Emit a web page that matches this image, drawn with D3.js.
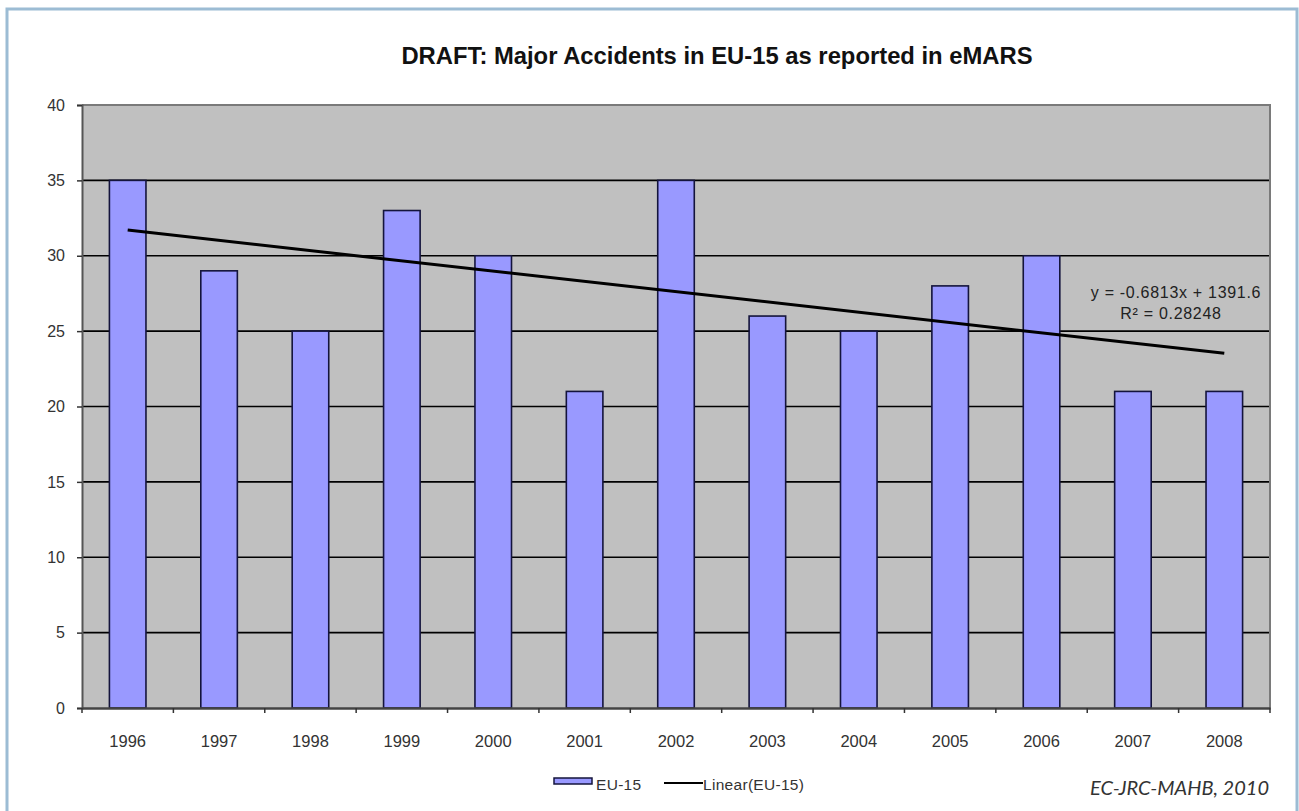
<!DOCTYPE html>
<html>
<head>
<meta charset="utf-8">
<script src="https://cdn.jsdelivr.net/npm/d3@7"></script>
<style>
  html, body { margin: 0; padding: 0; background: #fff; }
  svg { display: block; font-family: "Liberation Sans", Arial, sans-serif; }
</style>
</head>
<body>
<svg id="chart" width="1299" height="811"></svg>
<script>
// Major accidents reported per year (EU-15)
const years = ["1996","1997","1998","1999","2000","2001","2002","2003","2004","2005","2006","2007","2008"];
const accidents = [35, 29, 25, 33, 30, 21, 35, 26, 25, 28, 30, 21, 21];
const yTicks = [0, 5, 10, 15, 20, 25, 30, 35, 40];
const seriesName = "EU-15";
const trendName = "Linear(EU-15)";
const titleText = "DRAFT: Major Accidents in EU-15 as reported in eMARS";
const sourceText = "EC-JRC-MAHB, 2010";

const FONT = "'Liberation Sans', Arial, sans-serif";
const svg = d3.select("#chart");

// outer frame
svg.append("rect")
  .attr("x", 7).attr("y", 9).attr("width", 1290).attr("height", 830)
  .attr("fill", "#fff").attr("stroke", "#9CBCD4").attr("stroke-width", 3);

const plot = { left: 82, right: 1270, top: 105, bottom: 708 };

const x = d3.scaleBand().domain(years).range([plot.left, plot.right]).paddingInner(0.6).paddingOuter(0.3);
const y = d3.scaleLinear().domain([0, 40]).range([plot.bottom, plot.top]);

// plot background
svg.append("rect")
  .attr("x", plot.left).attr("y", plot.top)
  .attr("width", plot.right - plot.left).attr("height", plot.bottom - plot.top)
  .attr("fill", "#C0C0C0");

// horizontal gridlines
svg.append("g").selectAll("line")
  .data(yTicks.filter(t => t > 0 && t < 40))
  .join("line")
  .attr("x1", plot.left).attr("x2", plot.right)
  .attr("y1", d => y(d)).attr("y2", d => y(d))
  .attr("stroke", "#000").attr("stroke-width", 1.6);

// plot border (top and right)
svg.append("path")
  .attr("d", `M${plot.left},${y(40)}H${plot.right}V${plot.bottom}`)
  .attr("fill", "none").attr("stroke", "#7a7a7a").attr("stroke-width", 2);

// bars
svg.append("g").selectAll("rect")
  .data(accidents)
  .join("rect")
  .attr("x", (d, i) => x(years[i]))
  .attr("width", x.bandwidth())
  .attr("y", d => y(d))
  .attr("height", d => y(0) - y(d))
  .attr("fill", "#9999FF")
  .attr("stroke", "#14143C").attr("stroke-width", 1.6);

// linear trend (least squares over year values)
const xs = years.map(Number);
const mx = d3.mean(xs), my = d3.mean(accidents);
const sxy = d3.sum(xs, (v, i) => (v - mx) * (accidents[i] - my));
const sxx = d3.sum(xs, v => (v - mx) ** 2);
const syy = d3.sum(accidents, v => (v - my) ** 2);
const slope = sxy / sxx;
const intercept = my - slope * mx;
const r2 = (sxy * sxy) / (sxx * syy);
const center = yr => x(yr) + x.bandwidth() / 2;

svg.append("line")
  .attr("x1", center(years[0])).attr("y1", y(slope * xs[0] + intercept))
  .attr("x2", center(years[years.length - 1])).attr("y2", y(slope * xs[xs.length - 1] + intercept))
  .attr("stroke", "#000").attr("stroke-width", 3);

// equation label
const eq = svg.append("g").attr("font-size", 16).attr("letter-spacing", 0.7)
  .attr("fill", "#222").attr("text-anchor", "middle");
eq.append("text").attr("x", 1176).attr("y", 298)
  .text(`y = ${slope.toFixed(4)}x + ${intercept.toFixed(1)}`);
eq.append("text").attr("x", 1171).attr("y", 319)
  .text(`R² = ${r2.toFixed(5)}`);

// y axis
const yAxis = svg.append("g")
  .attr("transform", `translate(${plot.left},0)`)
  .call(d3.axisLeft(y).tickValues(yTicks).tickSize(5).tickPadding(12));
yAxis.select(".domain").attr("stroke", "#555").attr("stroke-width", 2);
yAxis.selectAll(".tick line").attr("stroke", "#333").attr("stroke-width", 1.5);
yAxis.selectAll(".tick text").attr("font-size", 16).attr("fill", "#333")
  .attr("font-family", FONT);

// x axis with labels centred under the bars
const xAxis = svg.append("g")
  .attr("transform", `translate(0,${plot.bottom})`)
  .call(d3.axisBottom(x).tickSize(0).tickPadding(27).tickSizeOuter(0));
xAxis.select(".domain").attr("stroke", "#444").attr("stroke-width", 2.5);
xAxis.selectAll(".tick text").attr("font-size", 16.5).attr("fill", "#333")
  .attr("font-family", FONT);

// category boundary tick marks
svg.append("g").selectAll("line")
  .data(d3.range(years.length + 1))
  .join("line")
  .attr("x1", i => plot.left + i * (plot.right - plot.left) / years.length)
  .attr("x2", i => plot.left + i * (plot.right - plot.left) / years.length)
  .attr("y1", plot.bottom).attr("y2", plot.bottom + 5)
  .attr("stroke", "#333").attr("stroke-width", 1.5);

// title
svg.append("text")
  .attr("x", 717).attr("y", 64)
  .attr("text-anchor", "middle")
  .attr("font-size", 23.8).attr("font-weight", "bold").attr("fill", "#111")
  .text(titleText);

// legend
const legend = svg.append("g").attr("font-size", 15.5).attr("letter-spacing", 0.3).attr("fill", "#333");
legend.append("rect")
  .attr("x", 554).attr("y", 778).attr("width", 38).attr("height", 6)
  .attr("fill", "#9999FF").attr("stroke", "#14143C").attr("stroke-width", 1.5);
legend.append("text").attr("x", 596).attr("y", 790).text(seriesName);
legend.append("line")
  .attr("x1", 664).attr("x2", 703).attr("y1", 783).attr("y2", 783)
  .attr("stroke", "#000").attr("stroke-width", 2);
legend.append("text").attr("x", 703).attr("y", 790).text(trendName);

// source note
svg.append("text")
  .attr("x", 1269).attr("y", 795)
  .attr("text-anchor", "end")
  .attr("font-family", "Lato, 'Open Sans', sans-serif")
  .attr("font-style", "italic")
  .attr("font-size", 20).attr("fill", "#333")
  .text(sourceText);
</script>
</body>
</html>
